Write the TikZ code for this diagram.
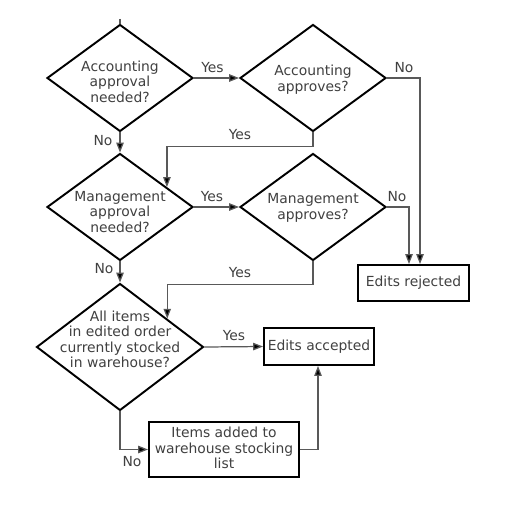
\documentclass[tikz,border=0pt]{standalone}
\usepackage{fontspec}
\setmainfont{DejaVu Sans}
\usetikzlibrary{arrows.meta,shapes.geometric}

\begin{document}
\begin{tikzpicture}[
    x=0.02cm, y=-0.02cm,
    font=\fontsize{7.9}{8.8}\selectfont,
    decision/.style={diamond, draw=black, line width=1.1pt, inner sep=0pt,
      minimum width=2.92cm, minimum height=2.14cm},
    outcome/.style={rectangle, draw=black, line width=1.1pt, inner sep=0pt},
    caption/.style={text=black!75, align=center, inner sep=0pt},
    branch/.style={text=black!75, inner sep=0pt},
    flow/.style={draw=black!65, line width=0.7pt,
      -{Triangle[length=5.6pt, width=4.2pt, fill=black]}},
    flowPlain/.style={draw=black!65, line width=0.7pt},
  ]
  \useasboundingbox (0,0) rectangle (508,510);

  % ---- decisions ------------------------------------------------------
  \node[decision] (acctNeed) at (120,78)  {};
  \node[decision] (acctOk)   at (313,78)  {};
  \node[decision] (mgmtNeed) at (120,207) {};
  \node[decision] (mgmtOk)   at (313,207) {};
  \node[decision, minimum width=3.34cm, minimum height=2.54cm]
        (stockQ) at (120,347) {};

  \node[caption] (acctNeedTxt) at (120,81.5) {Accounting\\approval\\needed?};
  \node[caption] (acctOkTxt)   at (313,79.5) {Accounting\\approves?};
  \node[caption] (mgmtNeedTxt) at (120,212)  {Management\\approval\\needed?};
  \node[caption] (mgmtOkTxt)   at (313,208)  {Management\\approves?};
  \node[caption] (stockQTxt)   at (120,339.5)
        {All items\\in edited order\\currently stocked\\in warehouse?};

  % ---- outcomes -------------------------------------------------------
  \node[outcome, minimum width=2.22cm, minimum height=0.72cm]
        (rejected) at (413.5,283) {};
  \node[caption] (rejectedTxt) at (413.5,283) {Edits rejected};
  \node[outcome, minimum width=2.2cm, minimum height=0.74cm]
        (accepted) at (319,346.5) {};
  \node[caption] (acceptedTxt) at (319,346.5) {Edits accepted};
  \node[outcome, minimum width=3cm, minimum height=1.1cm]
        (stockList) at (224,449.5) {};
  \node[caption] (stockListTxt) at (224,448)
        {Items added to\\warehouse stocking\\list};

  % ---- connectors -----------------------------------------------------
  \coordinate (entry) at (120,19);
  \draw[flowPlain] (entry) -- (acctNeed.north);
  \draw[flow] (acctNeed.east) -- (acctOk.west);
  \draw[flow] (acctNeed.south) -- (mgmtNeed.north);
  \draw[flow] (acctOk.south) -- ++(0,14) -| (mgmtNeed.23);
  \draw[flow] (acctOk.east) -| ([xshift=0.13cm]rejected.north);
  \draw[flow] (mgmtNeed.east) -- (mgmtOk.west);
  \draw[flow] (mgmtNeed.south) -- (stockQ.north);
  \draw[flow] (mgmtOk.south) -- ++(0,23) -| (stockQ.31);
  \draw[flow] (mgmtOk.east) -| ([xshift=-0.09cm]rejected.north);
  \draw[flow] (stockQ.east) -- (accepted.west);
  \draw[flow] (stockQ.south) |- (stockList.west);
  \draw[flow] (stockList.east) -| ([xshift=-0.02cm]accepted.south);

  % ---- branch labels --------------------------------------------------
  \node[branch] (yesAcct)    at (212.5,68) {Yes};
  \node[branch] (noAcct)     at (103,141)  {No};
  \node[branch] (yesAcctOk)  at (240,135)  {Yes};
  \node[branch] (noAcctOk)   at (404,68)   {No};
  \node[branch] (yesMgmt)    at (212,197)  {Yes};
  \node[branch] (noMgmt)     at (104,269)  {No};
  \node[branch] (yesMgmtOk)  at (240,273)  {Yes};
  \node[branch] (noMgmtOk)   at (397,197)  {No};
  \node[branch] (yesStock)   at (234,336)  {Yes};
  \node[branch] (noStock)    at (132,462)  {No};
\end{tikzpicture}
\end{document}
